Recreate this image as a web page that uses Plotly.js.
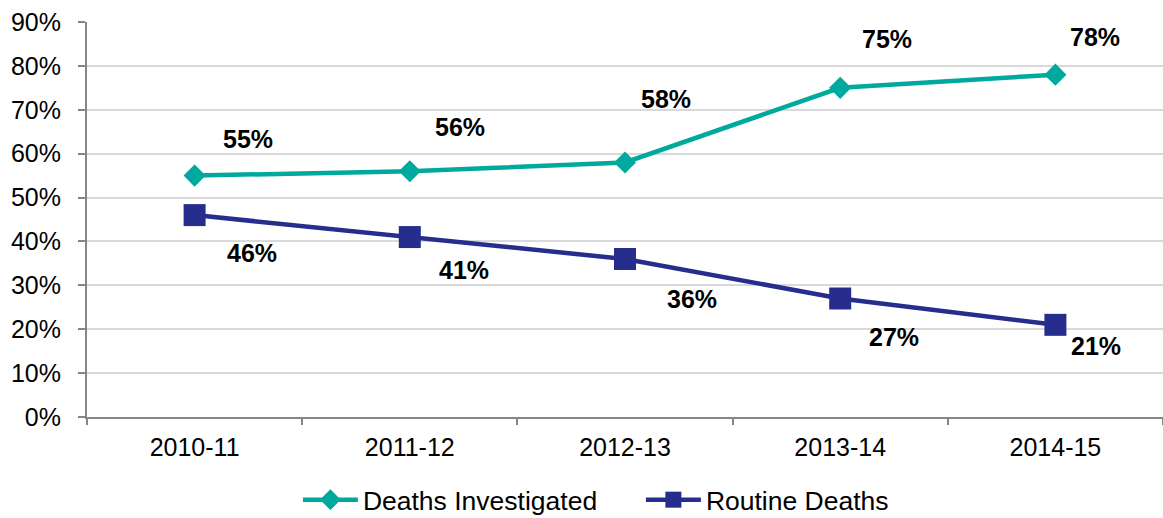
<!DOCTYPE html>
<html>
<head>
<meta charset="utf-8">
<script src="https://cdn.plot.ly/plotly-3.0.1.min.js"></script>
<style>html,body{margin:0;padding:0;background:#fff;}#chart{width:1163px;height:518px;}</style>
</head>
<body>
<div id="chart"></div>
<script>
const years = ["2010-11", "2011-12", "2012-13", "2013-14", "2014-15"];
const deathsInvestigated = [55, 56, 58, 75, 78];
const routineDeaths = [46, 41, 36, 27, 21];
const yTicks = [0, 10, 20, 30, 40, 50, 60, 70, 80, 90];

// label offsets (pixels) - styling only
const invOffX = [53, 50, 41, 47, 40];
const invOffY = [-37, -44, -63, -49, -38];
const rouOffX = [57, 54, 67, 54, 41];
const rouOffY = [38, 33, 40, 38, 21];

const teal = "#00A99D";
const navy = "#262D8C";
const FONT = "Liberation Sans, Arial, sans-serif";

const traces = [
  {
    x: years, y: deathsInvestigated, name: "Deaths Investigated", type: "scatter", mode: "lines+markers",
    line: {color: teal, width: 4.5}, marker: {symbol: "diamond", size: 17, color: teal},
    cliponaxis: false, hoverinfo: "skip"
  },
  {
    x: years, y: routineDeaths, name: "Routine Deaths", type: "scatter", mode: "lines+markers",
    line: {color: navy, width: 4.5}, marker: {symbol: "square", size: 22, color: navy},
    cliponaxis: false, hoverinfo: "skip"
  }
];

const annotations = [];
years.forEach((yr, i) => {
  annotations.push({x: yr, y: deathsInvestigated[i], xref: "x", yref: "y", text: "<b>" + deathsInvestigated[i] + "%</b>",
    showarrow: false, xshift: invOffX[i], yshift: -invOffY[i],
    font: {family: FONT, size: 25, color: "#000"}});
  annotations.push({x: yr, y: routineDeaths[i], xref: "x", yref: "y", text: "<b>" + routineDeaths[i] + "%</b>",
    showarrow: false, xshift: rouOffX[i], yshift: -rouOffY[i],
    font: {family: FONT, size: 25, color: "#000"}});
});

const layout = {
  width: 1163, height: 518,
  margin: {l: 87, r: 0, t: 22, b: 101, autoexpand: false},
  paper_bgcolor: "#fff", plot_bgcolor: "#fff",
  font: {family: FONT, size: 25, color: "#000"},
  showlegend: true,
  legend: {orientation: "h", x: 0.196, xanchor: "left", xref: "paper", y: -0.21, yanchor: "middle",
    font: {size: 26.5, color: "#000"}, itemwidth: 55, entrywidth: 273, entrywidthmode: "pixels", tracegroupgap: 0},
  xaxis: {
    type: "category", categoryorder: "array", categoryarray: years,
    range: [-0.5, 4.5],
    showline: true, linecolor: "#868686", linewidth: 2,
    ticks: "outside", tickson: "boundaries", ticklen: 6, tickcolor: "#868686", tickwidth: 2,
    showgrid: false, zeroline: false, fixedrange: true,
    tickfont: {size: 25, color: "#000"}, ticklabelstandoff: 7
  },
  yaxis: {
    range: [0, 90], tickvals: yTicks, ticktext: yTicks.map(v => v + "%"),
    showline: true, linecolor: "#868686", linewidth: 2,
    ticks: "outside", ticklen: 7, tickcolor: "#868686", tickwidth: 2,
    showgrid: true, gridcolor: "#D9D9D9", gridwidth: 2,
    zeroline: false, fixedrange: true,
    tickfont: {size: 25, color: "#000"}, ticklabelstandoff: 12
  },
  annotations: annotations
};

Plotly.newPlot("chart", traces, layout, {staticPlot: true, displayModeBar: false});
</script>
</body>
</html>
